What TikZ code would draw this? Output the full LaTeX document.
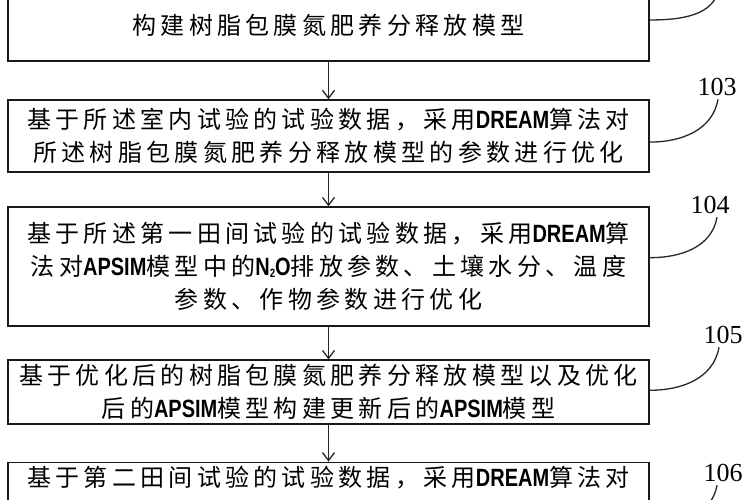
\documentclass[tikz,border=0pt]{standalone}
\usepackage{fontspec}
\usetikzlibrary{positioning,arrows.meta}
\newfontfamily\cjk[LetterSpace=18]{Noto Sans CJK SC}
\newfontfamily\latn[FakeStretch=0.8]{Liberation Sans}
\newfontfamily\numf{Liberation Serif}
\newcommand\eng[1]{{\latn\bfseries\fontsize{25}{33}\selectfont #1}}

\begin{document}
\begin{tikzpicture}[x=1pt,y=1pt,>={Straight Barb[length=8pt,width=12pt]},
		stepbox/.style={draw=black!90,line width=1.6pt,minimum width=641pt,inner sep=0pt,
			align=center,font=\cjk\fontsize{24}{33}\selectfont},
		tag/.style={font=\numf\fontsize{26}{26}\selectfont},
		lead/.style={line width=1.3pt,draw=black!85}]
	\useasboundingbox (0,0) rectangle (750,500);
	\clip (0,0) rectangle (750,500);

	\node[stepbox,minimum height=72pt] (b1) at (328.5,475) {构建树脂包膜氮肥养分释放模型};
	\node[stepbox,minimum height=72pt,below=37.5pt of b1] (b2)
		{基于所述室内试验的试验数据，采用\eng{DREAM}算法对\\所述树脂包膜氮肥养分释放模型的参数进行优化};
	\node[stepbox,minimum height=119pt,below=33.5pt of b2] (b3)
		{基于所述第一田间试验的试验数据，采用\eng{DREAM}算\\法对\eng{APSIM}模型中的\eng{N\raisebox{-2pt}{\fontsize{12}{12}\selectfont 2}O}排放参数、土壤水分、温度\\参数、作物参数进行优化};
	\node[stepbox,minimum height=64pt,below=32.5pt of b3] (b4)
		{基于优化后的树脂包膜氮肥养分释放模型以及优化\\后的\eng{APSIM}模型构建更新后的\eng{APSIM}模型};
	\node[stepbox,inner ysep=4pt,text depth=55pt,below=36.5pt of b4] (b5)
		{基于第二田间试验的试验数据，采用\eng{DREAM}算法对};

	\path[->,line width=1.3pt,draw=black!85]
		(b1) edge (b2)
		(b2) edge (b3)
		(b3) edge (b4)
		(b4) edge (b5);

	% step numbers
	\node[tag] (l103) at (717,413) {103};
	\node[tag] (l104) at (710,295) {104};
	\node[tag] (l105) at (723,165) {105};
	\node[tag] (l106) at (723,27) {106};
	\coordinate (t102) at (719,514);

	\draw[lead] ([yshift=5pt]b1.east) to[out=0,in=-95] (t102);
	\draw[lead] ([xshift=1pt]l103.south) to[out=-100,in=0] ([yshift=-6pt]b2.east);
	\draw[lead] ([xshift=7pt]l104.south) to[out=-100,in=0] ([yshift=9pt]b3.east);
	\draw[lead] ([xshift=-4pt]l105.south) to[out=-100,in=0] ([yshift=2pt]b4.east);
	\draw[lead] ([xshift=-6pt]l106.south) to[out=-100,in=0] ([yshift=-20pt]b5.east);
\end{tikzpicture}
\end{document}
